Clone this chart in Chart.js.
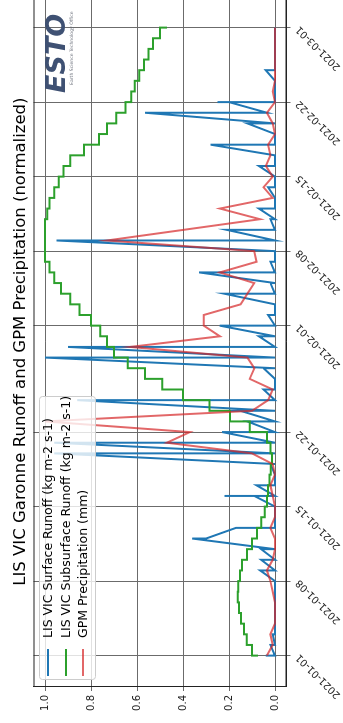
<!DOCTYPE html>
<html>
<head>
<meta charset="utf-8">
<script src="https://cdn.jsdelivr.net/npm/chart.js@4.4.0/dist/chart.umd.min.js"></script>
<style>
html, body { margin: 0; padding: 0; background: #fff; overflow: hidden; width: 343px; height: 723px; }
/* the chart is drawn landscape and turned a quarter turn to the left */
#wrap { position: absolute; left: 0; top: 723px; width: 740px; height: 343px; transform-origin: 0 0; transform: rotate(-90deg); }
</style>
</head>
<body>
<div id="wrap"><canvas id="chart" width="740" height="343"></canvas></div>
<script>
// dates: day 0 = 2021-01-01
var dateTicks = [0, 7, 14, 21, 31, 38, 45, 52, 59];
var dateLabels = ['2021-01-01', '2021-01-08', '2021-01-15', '2021-01-22', '2021-02-01',
                  '2021-02-08', '2021-02-15', '2021-02-22', '2021-03-01'];
var valueTicks = [0, 0.2, 0.4, 0.6, 0.8, 1.0];

// LIS VIC surface runoff (normalized): all values logged on each day, index = day
var surfaceByDay = [
    [0.04, 0], [0.02, 0], [0.01, 0], [0], [0], [0], [0], [0], [0.065, 0], [0.06, 0],
    [0.06, 0], [0.36, 0.30], [0.17, 0], [0], [0], [0.09, 0.22, 0], [0.08, 0], [0], [0.02, 0], [0.96, 0],
    [0.96, 0], [0.23, 0], [0.12, 0], [0.15, 0.2, 0], [0.86, 0], [0.05, 0], [0], [0.05, 0], [1.0, 0], [0.9, 0],
    [0.07, 0], [0.24, 0], [0.03, 0], [0], [0.22, 0], [0.02, 0], [0.33, 0], [0.02, 0], [0], [0.95, 0],
    [0.21, 0], [0.02, 0], [0.07, 0], [0], [0.03, 0], [0], [0.07, 0], [0], [0.28, 0], [0],
    [0.12, 0], [0.565, 0.035], [0.2, 0.25, 0], [0], [0], [0.04, 0], [0], [0], [0], [0]
];

// LIS VIC subsurface runoff (normalized): level reached on each day
var subsurfaceDays = [0, 0, 1, 2, 3, 4, 5, 6, 7, 8, 9, 10, 11, 12, 13, 14, 15, 16, 17, 18, 19, 20, 21, 22, 23, 24, 25, 26, 27, 28, 29,
    30, 31, 32, 33, 34, 35, 36, 37, 38, 39, 40, 41, 42, 43, 44, 45, 46, 47, 48, 49, 50, 51, 52, 53, 54, 55, 56, 57, 58, 59];
var subsurfaceValues = [0.074, 0.10, 0.123, 0.135, 0.148, 0.157, 0.162, 0.16, 0.152, 0.143, 0.122, 0.10, 0.078, 0.06, 0.045, 0.035,
    0.03, 0.024, 0.018, 0.013, 0.02, 0.035, 0.11, 0.196, 0.285, 0.40, 0.49, 0.565, 0.64, 0.70, 0.73,
    0.76, 0.80, 0.85, 0.89, 0.93, 0.96, 0.98, 1.0, 1.0, 1.0, 1.0, 0.99, 0.98, 0.96, 0.94, 0.92, 0.89, 0.83, 0.765, 0.73,
    0.69, 0.65, 0.625, 0.61, 0.59, 0.57, 0.55, 0.53, 0.50, 0.47];

// GPM precipitation (normalized), daily
var precipDays = [0, 1, 2, 3, 4, 5, 6, 7, 8, 9, 10, 11, 12, 13, 14, 15, 16, 17, 18, 19, 20, 21, 22, 23, 24, 25, 26, 27, 28, 29,
    30, 31, 32, 33, 34, 35, 36, 37, 38, 39, 41, 42, 43, 44, 45, 46, 47, 48, 49, 50, 51, 52, 53, 54, 55, 56, 57, 58, 59];
var precipValues = [0.035, 0.01, 0.02, 0, 0, 0, 0.01, 0.02, 0.035, 0.01, 0, 0, 0.02, 0, 0, 0.01, 0.02, 0, 0.01, 0.10,
    0.47, 0.37, 1.0, 0.10, 0.03, 0.01, 0.11, 0.09, 0.12, 0.63,
    0.24, 0.31, 0.31, 0.15, 0.12, 0.09, 0.24, 0.08, 0.09, 0.73, 0.065, 0.24, 0.01, 0.05, 0.01, 0.04, 0.02, 0.03, 0, 0.01,
    0.035, 0, 0.01, 0, 0, 0, 0, 0, 0];

function toPoints(days, values) {
    return days.map(function (d, i) { return { x: d, y: values[i] }; });
}

function dailyPoints(byDay) {
    var pts = [];
    byDay.forEach(function (vals, d) {
        vals.forEach(function (v) { pts.push({ x: d, y: v }); });
    });
    return pts;
}

// legend inside the axes, spines on all sides and the ESTO mark
var decorPlugin = {
    id: 'decor',
    afterDatasetsDraw: function (chart) {
        var ctx = chart.ctx;
        var a = chart.chartArea;
        ctx.save();
        ctx.strokeStyle = '#222';
        ctx.lineWidth = 1;
        ctx.strokeRect(a.left + 0.5, a.top + 0.5, a.right - a.left - 1, a.bottom - a.top - 1);

        // ESTO logo, top right of the axes
        ctx.fillStyle = '#3f5173';
        ctx.font = 'bold italic 27px "DejaVu Sans"';
        ctx.textBaseline = 'alphabetic';
        ctx.fillText('ESTO', 630, 65);
        ctx.fillStyle = '#6a6f7a';
        ctx.font = '4.6px "DejaVu Sans"';
        ctx.fillText('Earth Science Technology Office', 638, 73);

        // legend box
        var bx = a.left + 7, by = a.top + 5.5, bw = 283, bh = 56;
        ctx.beginPath();
        ctx.roundRect(bx + 0.5, by + 0.5, bw, bh, 3);
        ctx.fillStyle = 'rgba(255,255,255,0.8)';
        ctx.fill();
        ctx.strokeStyle = '#cccccc';
        ctx.stroke();
        ctx.font = '12.5px "DejaVu Sans"';
        ctx.textBaseline = 'middle';
        ctx.fillStyle = '#000';
        var rows = [9, 27, 44];
        chart.data.datasets.forEach(function (ds, i) {
            var y = by + rows[i];
            ctx.strokeStyle = ds.borderColor;
            ctx.lineWidth = 2;
            ctx.beginPath();
            ctx.moveTo(bx + 4, y);
            ctx.lineTo(bx + 31, y);
            ctx.stroke();
            ctx.fillText(ds.label, bx + 42, y + 0.5);
        });
        ctx.restore();
    }
};

var ctx = document.getElementById('chart').getContext('2d');
var chart = new Chart(ctx, {
    type: 'line',
    data: {
        datasets: [
            {
                label: 'LIS VIC Surface Runoff (kg m-2 s-1)',
                data: dailyPoints(surfaceByDay),
                borderColor: '#1f77b4',
                order: 2
            },
            {
                label: 'LIS VIC Subsurface Runoff (kg m-2 s-1)',
                data: toPoints(subsurfaceDays, subsurfaceValues),
                borderColor: '#2ca02c',
                stepped: 'before',
                order: 1
            },
            {
                label: 'GPM Precipitation (mm)',
                data: toPoints(precipDays, precipValues),
                borderColor: 'rgba(214,39,40,0.7)',
                order: 0
            }
        ]
    },
    options: {
        responsive: false,
        animation: false,
        devicePixelRatio: 1,
        layout: { padding: { left: 0, right: 13.2, top: 0, bottom: 0 } },
        elements: {
            point: { radius: 0 },
            line: { borderWidth: 2, tension: 0 }
        },
        plugins: {
            legend: { display: false },
            tooltip: { enabled: false },
            title: {
                display: true,
                fullSize: false,
                text: 'LIS VIC Garonne Runoff and GPM Precipitation (normalized)',
                color: '#000',
                font: { family: 'DejaVu Sans', size: 16.5, weight: 'normal' },
                padding: { top: 11, bottom: 2.7 }
            }
        },
        scales: {
            x: {
                type: 'linear',
                min: -2.95,
                max: 61.95,
                afterBuildTicks: function (scale) {
                    scale.ticks = dateTicks.map(function (v) { return { value: v }; });
                },
                afterFit: function (scale) { scale.height = 56.5; },
                grid: { color: '#6b6b6b', lineWidth: 1, tickLength: 4 },
                border: { color: '#222' },
                ticks: {
                    autoSkip: false,
                    minRotation: 45,
                    maxRotation: 45,
                    padding: 3,
                    color: '#222',
                    font: { family: 'DejaVu Sans', size: 10 },
                    callback: function (value, index) { return dateLabels[index]; }
                }
            },
            y: {
                min: -0.05,
                max: 1.05,
                afterBuildTicks: function (scale) {
                    scale.ticks = valueTicks.map(function (v) { return { value: v }; });
                },
                afterFit: function (scale) { scale.width = 36; },
                grid: { color: '#6b6b6b', lineWidth: 1, tickLength: 4 },
                border: { color: '#222' },
                ticks: {
                    padding: 4,
                    color: '#222',
                    font: { family: 'DejaVu Sans', size: 10 },
                    callback: function (value) { return value.toFixed(1); }
                }
            }
        }
    },
    plugins: [decorPlugin]
});
</script>
</body>
</html>
